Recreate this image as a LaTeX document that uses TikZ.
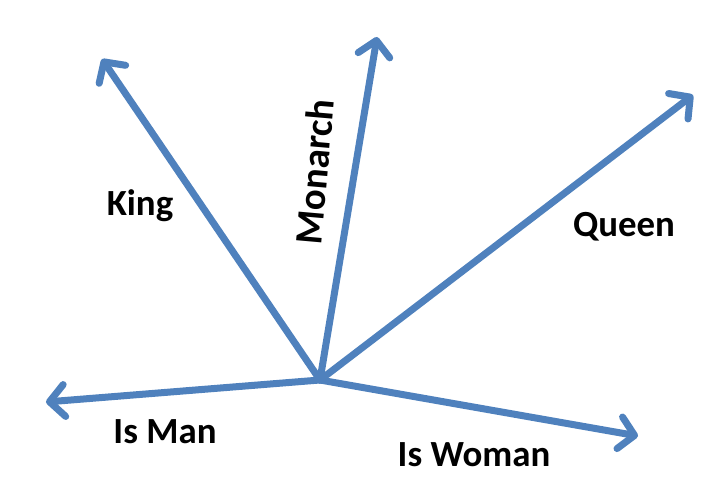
\documentclass[tikz,border=0pt]{standalone}
\usepackage{fontspec}
\setmainfont{Carlito}
\usetikzlibrary{arrows.meta}
\definecolor{vecblue}{HTML}{4F81BD}
\tikzset{
  vec/.style={draw=vecblue, line width=7bp, line cap=round,
    -{Straight Barb[length=15bp, width=32bp, round]}},
  lbl/.style={font=\fontsize{37}{40}\selectfont\bfseries, text=black, inner sep=0pt, anchor=base}
}
\begin{document}
\begin{tikzpicture}[x=1bp, y=-1bp]
\useasboundingbox (0,0) rectangle (720,498);
\coordinate (o) at (320,380);
\coordinate (king) at (102,59);
\coordinate (monarch) at (377,37);
\coordinate (queen) at (693,95);
\coordinate (man) at (46,402);
\coordinate (woman) at (638,436);
\draw[vec] (o) -- (king);
\draw[vec] (o) -- (monarch);
\draw[vec] (o) -- (queen);
\draw[vec] (o) -- (man);
\draw[vec] (o) -- (woman);
\node[lbl] (tking) at (140,216) {King};
\node[lbl, rotate=85, font=\fontsize{39}{42}\selectfont\bfseries] (tmonarch) at (328,173) {Monarch};
\node[lbl] (tqueen) at (624,237) {Queen};
\node[lbl] (tman) at (165,443) {Is Man};
\node[lbl] (twoman) at (474,466) {Is Woman};
\end{tikzpicture}
\end{document}
